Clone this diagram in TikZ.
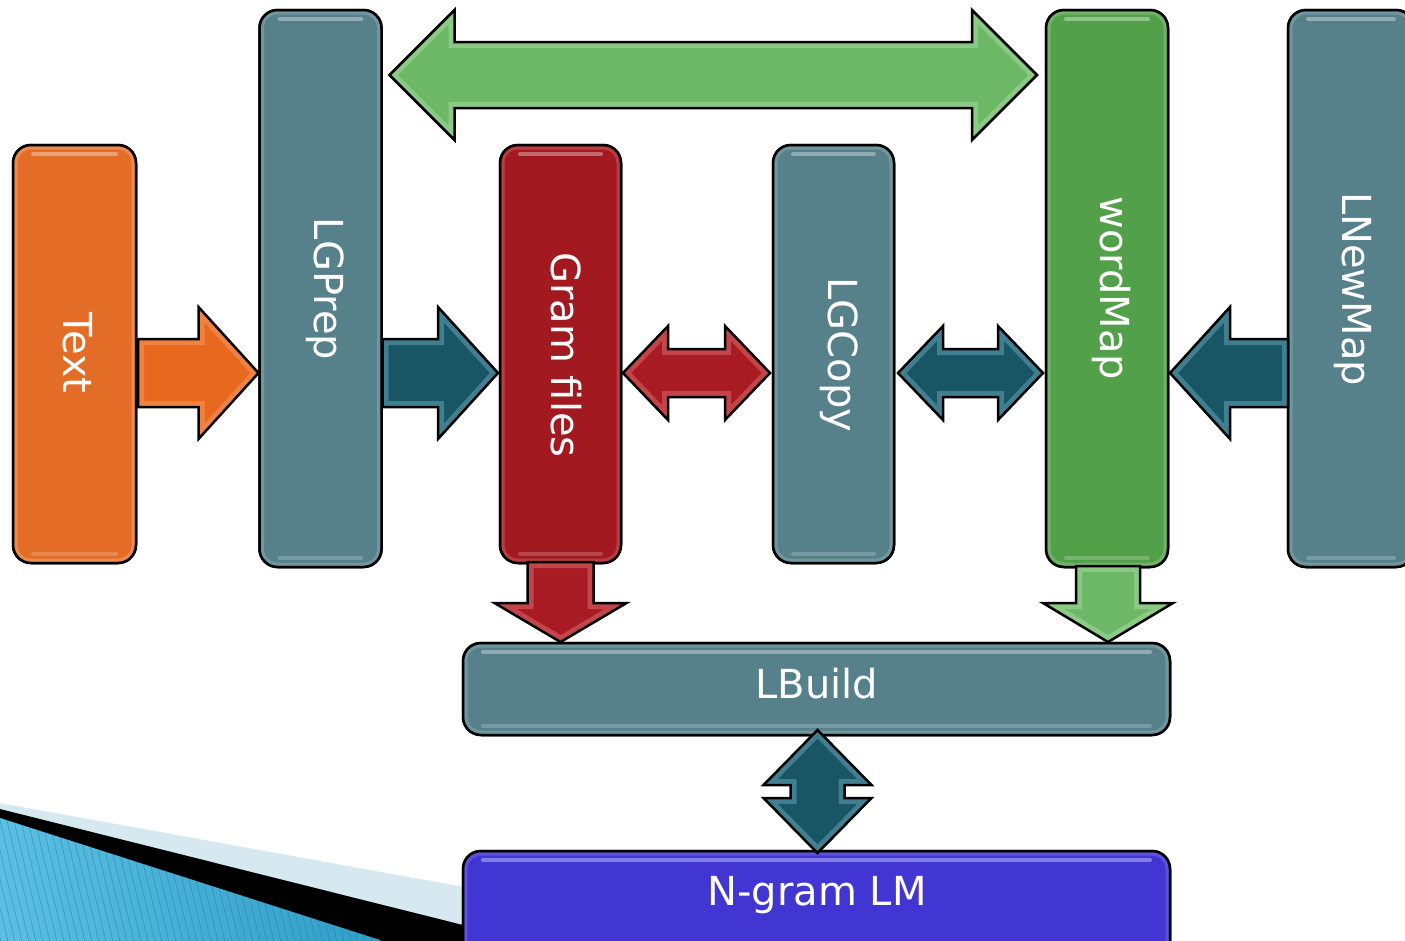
\documentclass[tikz,border=0pt]{standalone}
\usepackage{fontspec}
\setmainfont{DejaVu Sans}
\usetikzlibrary{calc}

\definecolor{orangeBox}{HTML}{E36C27}
\definecolor{orangeLt}{HTML}{F6A36B}
\definecolor{tealBox}{HTML}{56808A}
\definecolor{tealLt}{HTML}{86AAB2}
\definecolor{redBox}{HTML}{A2191F}
\definecolor{redLt}{HTML}{CF575C}
\definecolor{greenBox}{HTML}{53A04A}
\definecolor{greenLt}{HTML}{86C67E}
\definecolor{blueBox}{HTML}{4236D3}
\definecolor{blueLt}{HTML}{7268E8}
\definecolor{orangeArr}{HTML}{E8681F}
\definecolor{tealArr}{HTML}{185565}
\definecolor{tealArrLt}{HTML}{6FB3C3}
\definecolor{redArr}{HTML}{A81B22}
\definecolor{redArrLt}{HTML}{E4767A}
\definecolor{greenArr}{HTML}{6DB866}
\definecolor{greenArrLt}{HTML}{B0E0AA}
\definecolor{swooshLt}{HTML}{D6E9F1}
\definecolor{swooshA}{HTML}{5CBFE2}
\definecolor{swooshB}{HTML}{2E9CC6}
\definecolor{swooshLine}{HTML}{1F7FA6}

\tikzset{
  box/.style={draw=black, line width=2.5pt, rounded corners=18pt, inner sep=0pt, outer sep=0pt},
  lbl/.style={text=white, font=\fontsize{40}{48}\selectfont, inner sep=0pt},
  vlbl/.style={lbl, rotate=-90, anchor=base},
  hlbl/.style={lbl, anchor=base},
  outline/.style={draw=black, line width=2.5pt, line join=miter},
  shine/.style={line width=4pt, line cap=round, white, opacity=.35},
}

% glossy rim and highlight strips for a rounded box node
\newcommand\glossbox[2]{%
  \begin{scope}
    \clip[rounded corners=18pt] (#1.north west) rectangle (#1.south east);
    \draw[#2, line width=9pt, opacity=.55, rounded corners=18pt] (#1.north west) rectangle (#1.south east);
  \end{scope}
  \draw[shine] ($(#1.north west)+(20,9)$) -- ($(#1.north east)+(-20,9)$);
  \draw[shine, opacity=.2] ($(#1.south west)+(20,-9)$) -- ($(#1.south east)+(-20,-9)$);
  \draw[line width=2.5pt, rounded corners=18pt] (#1.north west) rectangle (#1.south east);
}

% single block arrow: #1 fill, #2 rim colour, #3 tail, #4 tip, #5 shaft half width, #6 head half width, #7 head length
\newcommand\blockarrow[7]{%
  \coordinate (aT) at #3; \coordinate (aH) at #4;
  \coordinate (aB) at ($(aH)!#7!(aT)$);
  \coordinate (q1) at ($(aT)!#5!90:(aH)$);
  \coordinate (q2) at ($(aB)!#5!90:(aH)$);
  \coordinate (q3) at ($(aB)!#6!90:(aH)$);
  \coordinate (q4) at ($(aB)!#6!-90:(aH)$);
  \coordinate (q5) at ($(aB)!#5!-90:(aH)$);
  \coordinate (q6) at ($(aT)!#5!-90:(aH)$);
  \fill[#1] (q1) -- (q2) -- (q3) -- (aH) -- (q4) -- (q5) -- (q6) -- cycle;
  \begin{scope}
    \clip (q1) -- (q2) -- (q3) -- (aH) -- (q4) -- (q5) -- (q6) -- cycle;
    \draw[#2, line width=12pt, opacity=.45, line join=miter] (q1) -- (q2) -- (q3) -- (aH) -- (q4) -- (q5) -- (q6) -- cycle;
  \end{scope}
  \draw[outline] (q1) -- (q2) -- (q3) -- (aH) -- (q4) -- (q5) -- (q6) -- cycle;
}

% double-headed block arrow: #1 fill, #2 rim colour, #3 first tip, #4 second tip, #5 shaft half width, #6 head half width, #7 head length
\newcommand\twowayarrow[7]{%
  \coordinate (aT) at #3; \coordinate (aH) at #4;
  \coordinate (b1) at ($(aT)!#7!(aH)$);
  \coordinate (b2) at ($(aH)!#7!(aT)$);
  \coordinate (r1) at ($(b1)!#6!90:(aH)$);
  \coordinate (r2) at ($(b1)!#5!90:(aH)$);
  \coordinate (r3) at ($(b2)!#5!-90:(aT)$);
  \coordinate (r4) at ($(b2)!#6!-90:(aT)$);
  \coordinate (r5) at ($(b2)!#6!90:(aT)$);
  \coordinate (r6) at ($(b2)!#5!90:(aT)$);
  \coordinate (r7) at ($(b1)!#5!-90:(aH)$);
  \coordinate (r8) at ($(b1)!#6!-90:(aH)$);
  \fill[#1] (aT) -- (r1) -- (r2) -- (r3) -- (r4) -- (aH) -- (r5) -- (r6) -- (r7) -- (r8) -- cycle;
  \begin{scope}
    \clip (aT) -- (r1) -- (r2) -- (r3) -- (r4) -- (aH) -- (r5) -- (r6) -- (r7) -- (r8) -- cycle;
    \draw[#2, line width=12pt, opacity=.45, line join=miter] (aT) -- (r1) -- (r2) -- (r3) -- (r4) -- (aH) -- (r5) -- (r6) -- (r7) -- (r8) -- cycle;
  \end{scope}
  \draw[outline] (aT) -- (r1) -- (r2) -- (r3) -- (r4) -- (aH) -- (r5) -- (r6) -- (r7) -- (r8) -- cycle;
}

\begin{document}
\begin{tikzpicture}[x=1pt, y=-1pt]
\useasboundingbox (0,0) rectangle (1405,940);
\clip (0,0) rectangle (1405,940);
\fill[white] (0,0) rectangle (1405,940);

% corner swoosh
\fill[swooshLt] (0,803) -- (475,889) -- (475,945) -- (0,945) -- cycle;
\fill[black] (0,809) -- (475,928) -- (475,945) -- (0,945) -- cycle;
\begin{scope}
  \clip (0,818) -- (380,940) -- (380,945) -- (0,945) -- cycle;
  \shade[left color=swooshA, right color=swooshB] (0,800) rectangle (400,945);
  \foreach \i in {-320,-313,...,400}
    \draw[swooshLine, line width=0.8pt, opacity=.45] (\i,800) -- (\i+36,950);
\end{scope}

% guide rows for the horizontal arrows
\coordinate (row) at (0,373);
\coordinate (toprow) at (0,75);

% process boxes
\node[box, fill=orangeBox, minimum width=123pt, minimum height=418pt] (text) at (74.5,354) {};
\node[box, fill=tealBox, minimum width=122pt, minimum height=557pt] (lgprep) at (320.5,288.5) {};
\node[box, fill=redBox, minimum width=121pt, minimum height=418pt] (gram) at (560.5,354) {};
\node[box, fill=tealBox, minimum width=121pt, minimum height=418pt] (lgcopy) at (833.5,354) {};
\node[box, fill=greenBox, minimum width=122pt, minimum height=557pt] (wordmap) at (1107,288.5) {};
\node[box, fill=tealBox, minimum width=126pt, minimum height=557pt] (lnewmap) at (1351,288.5) {};
\node[box, fill=blueBox, minimum width=707pt, minimum height=110pt] (ngram) at (816.5,906) {};

\glossbox{text}{orangeLt}
\glossbox{lgprep}{tealLt}
\glossbox{gram}{redLt}
\glossbox{lgcopy}{tealLt}
\glossbox{wordmap}{greenLt}
\glossbox{lnewmap}{tealLt}
\glossbox{ngram}{blueLt}

% arrows leaving the bottom of the boxes
\blockarrow{redArr}{redArrLt}{($(gram.south)+(0,-1)$)}{($(gram.south)+(0,79)$)}{33pt}{66pt}{39pt}
\blockarrow{greenArr}{greenArrLt}{($(wordmap.south)+(1,-1)$)}{($(wordmap.south)+(1,75)$)}{32pt}{65pt}{39pt}

\node[box, fill=tealBox, minimum width=707pt, minimum height=92pt] (lbuild) at (816.5,689) {};
\glossbox{lbuild}{tealLt}

% labels
\node[vlbl] (textlbl) at (63,353) {Text};
\node[vlbl] (lgpreplbl) at (314,289) {LGPrep};
\node[vlbl] (gramlbl) at (551,355) {Gram files};
\node[vlbl] (lgcopylbl) at (828,355) {LGCopy};
\node[vlbl] (wordmaplbl) at (1100,288) {wordMap};
\node[vlbl] (lnewmaplbl) at (1342,289) {LNewMap};
\node[hlbl] (lbuildlbl) at (817,698) {LBuild};
\node[hlbl] (ngramlbl) at (817,905) {N-gram LM};

% horizontal arrows
\blockarrow{orangeArr}{orangeLt}{($(text.east |- row)+(2,0)$)}{($(lgprep.west |- row)+(-1,0)$)}{34pt}{66pt}{60pt}
\blockarrow{tealArr}{tealArrLt}{($(lgprep.east |- row)+(1,0)$)}{($(gram.west |- row)+(-2,0)$)}{34pt}{66pt}{60pt}
\blockarrow{tealArr}{tealArrLt}{($(lnewmap.west |- row)+(0,0)$)}{($(wordmap.east |- row)+(2,0)$)}{34pt}{66pt}{60pt}
\twowayarrow{redArr}{redArrLt}{($(gram.east |- row)+(2,0)$)}{($(lgcopy.west |- row)+(-3,0)$)}{24pt}{47pt}{45pt}
\twowayarrow{tealArr}{tealArrLt}{($(lgcopy.east |- row)+(4,0)$)}{($(wordmap.west |- row)+(-3,0)$)}{24pt}{47pt}{45pt}
\twowayarrow{greenArr}{greenArrLt}{($(lgprep.east |- toprow)+(8,0)$)}{($(wordmap.west |- toprow)+(-9,0)$)}{33pt}{65pt}{65pt}

% link between LBuild and the language model
\twowayarrow{tealArr}{tealArrLt}{($(lbuild.south)+(1,-5)$)}{($(ngram.north)+(1,2)$)}{27pt}{54pt}{55pt}
\end{tikzpicture}
\end{document}
